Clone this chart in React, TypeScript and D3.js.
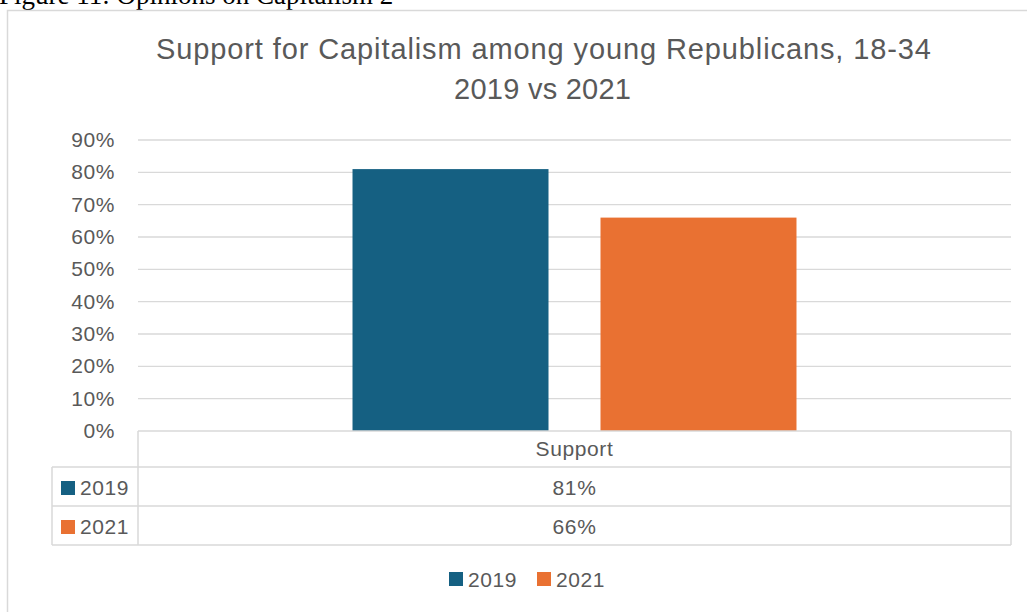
import React from "react";
import * as d3 from "d3";

const categories = ["Support"];
const seriesNames = ["2019", "2021"];
const values2019 = [0.81];
const values2021 = [0.66];
const yTicks = [0, 0.1, 0.2, 0.3, 0.4, 0.5, 0.6, 0.7, 0.8, 0.9];
const colors = ["#156082", "#E97132"];
const titleLines = ["Support for Capitalism among young Republicans, 18-34", "2019 vs 2021"];
const caption = "Figure 11: Opinions on Capitalism 2";

export default function App() {
  const W = 1027, H = 612;
  const left = 138, right = 1011, top = 140, bottom = 431;
  const y = d3.scaleLinear().domain([0, 0.9]).range([bottom, top]);
  const x0 = d3.scaleBand().domain(categories).range([left, right]).paddingInner(0).paddingOuter(0);
  const x1 = d3.scaleBand().domain(seriesNames).range([0, x0.bandwidth()]).paddingInner(0.2097).paddingOuter(0.865);
  const series = [values2019, values2021];
  const fmt = d3.format(".0%");
  const font = "'Liberation Sans', Arial, sans-serif";
  const txt = "#595959";
  const grid = "#d9d9d9";
  const rowY = [431, 467, 506, 545];
  const tableLeft = 52;
  const fs = 21;
  const ls = 0.6;
  return (
    <svg width={W} height={H} style={{ position: "fixed", left: 0, top: 0, background: "#fff" }}>
      <rect x={0} y={0} width={W} height={H} fill="#fff" />
      <text x={-1} y={4} fontFamily="'Liberation Serif', 'Times New Roman', serif" fontSize={27} fill="#000">
        {caption}
      </text>
      <rect x={7.5} y={10.5} width={1030} height={620} fill="none" stroke={grid} strokeWidth={1.5} />
      <text x={543.5} y={59} textAnchor="middle" fontFamily={font} fontSize={29} fill={txt} textLength={775} lengthAdjust="spacing">
        {titleLines[0]}
      </text>
      <text x={542.5} y={99} textAnchor="middle" fontFamily={font} fontSize={29} fill={txt} textLength={177} lengthAdjust="spacing">
        {titleLines[1]}
      </text>
      {yTicks.map((t) => (
        <g key={t}>
          {t > 0 && <line x1={left} x2={right} y1={y(t)} y2={y(t)} stroke={grid} strokeWidth={1.3} />}
          <text x={115} y={y(t) + 7} textAnchor="end" fontFamily={font} fontSize={fs} letterSpacing={ls} fill={txt}>
            {fmt(t)}
          </text>
        </g>
      ))}
      {categories.map((c, ci) => (
        <g key={c} transform={`translate(${x0(c)},0)`}>
          {seriesNames.map((s, si) => (
            <rect key={s} x={x1(s)} y={y(series[si][ci])} width={x1.bandwidth()} height={bottom - y(series[si][ci])} fill={colors[si]} />
          ))}
        </g>
      ))}
      <g stroke={grid} strokeWidth={1.5} fill="none">
        <line x1={left} x2={right} y1={rowY[0]} y2={rowY[0]} />
        <line x1={tableLeft} x2={right} y1={rowY[1]} y2={rowY[1]} />
        <line x1={tableLeft} x2={right} y1={rowY[2]} y2={rowY[2]} />
        <line x1={tableLeft} x2={right} y1={rowY[3]} y2={rowY[3]} />
        <line x1={left} x2={left} y1={rowY[0]} y2={rowY[3]} />
        <line x1={right} x2={right} y1={rowY[0]} y2={rowY[3]} />
        <line x1={tableLeft} x2={tableLeft} y1={rowY[1]} y2={rowY[3]} />
      </g>
      {categories.map((c) => (
        <text key={c} x={x0(c)! + x0.bandwidth() / 2} y={456} textAnchor="middle" fontFamily={font} fontSize={fs} letterSpacing={ls} fill={txt}>
          {c}
        </text>
      ))}
      {seriesNames.map((s, si) => (
        <g key={s}>
          <rect x={61} y={rowY[si + 1] + 14} width={14} height={14} fill={colors[si]} />
          <text x={80} y={rowY[si + 1] + 28} fontFamily={font} fontSize={fs} letterSpacing={ls} fill={txt}>{s}</text>
          {categories.map((c, ci) => (
            <text key={c} x={x0(c)! + x0.bandwidth() / 2} y={rowY[si + 1] + 28} textAnchor="middle" fontFamily={font} fontSize={fs} letterSpacing={ls} fill={txt}>
              {fmt(series[si][ci])}
            </text>
          ))}
        </g>
      ))}
      {seriesNames.map((s, si) => (
        <g key={s} transform={`translate(${449 + si * 88},0)`}>
          <rect x={0} y={572} width={14} height={14} fill={colors[si]} />
          <text x={19} y={587} fontFamily={font} fontSize={fs} letterSpacing={ls} fill={txt}>{s}</text>
        </g>
      ))}
    </svg>
  );
}
